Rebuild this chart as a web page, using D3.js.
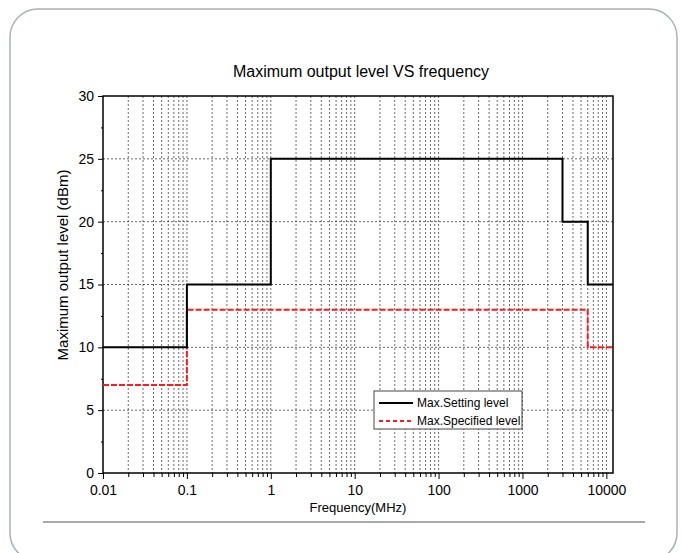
<!DOCTYPE html>
<html>
<head>
  <meta charset="utf-8">
  <title>Maximum output level VS frequency</title>
  <script src="https://cdn.jsdelivr.net/npm/d3@7"></script>
  <style>
    html, body { margin: 0; padding: 0; background: #fff; }
    svg { display: block; font-family: "Liberation Sans", Arial, sans-serif; }
    .grid line { stroke: #444; stroke-width: 0.8; stroke-dasharray: 2,2; }
    .axis path, .axis line { stroke: #000; }
    .axis text { font-size: 14px; fill: #000; }
  </style>
</head>
<body>
<div id="chart"></div>
<script>
  // step series (frequency in MHz where each level begins, last value ends the line)
  var settingFreq = [0.01, 0.1, 1, 3000, 6000, 12000];
  var settingLevel = [10, 15, 25, 20, 15, 15];
  var specFreq = [0.01, 0.1, 6000, 12000];
  var specLevel = [7, 13, 10, 10];
  var yTicks = [0, 5, 10, 15, 20, 25, 30];
  var xTicks = [0.01, 0.1, 1, 10, 100, 1000, 10000];
  var legendNames = ['Max.Setting level', 'Max.Specified level'];

  var W = 683, H = 553;
  var margin = { top: 96, left: 103, right: 70, bottom: 80 };
  var width = W - margin.left - margin.right;   // 510
  var height = H - margin.top - margin.bottom;  // 377

  var svg = d3.select('#chart').append('svg')
    .attr('width', W).attr('height', H);

  // page frame
  svg.append('rect')
    .attr('x', 10).attr('y', 9).attr('width', 667).attr('height', 552)
    .attr('rx', 28).attr('ry', 28)
    .attr('fill', 'none').attr('stroke', '#a9b2b7').attr('stroke-width', 1.5);
  svg.append('line')
    .attr('x1', 43).attr('x2', 645).attr('y1', 522).attr('y2', 522)
    .attr('stroke', '#555').attr('stroke-width', 1.2);

  var g = svg.append('g')
    .attr('transform', 'translate(' + margin.left + ',' + margin.top + ')');

  var x = d3.scaleLog().domain([0.01, 12000]).range([0, width]);
  var y = d3.scaleLinear().domain([0, 30]).range([height, 0]);

  // minor positions 1..9 in each decade
  var minorX = [];
  for (var e = -2; e <= 4; e++) {
    for (var m = 1; m <= 9; m++) {
      var v = m * Math.pow(10, e);
      if (v > 0.01 && v <= 12000) minorX.push(v);
    }
  }

  // grid
  var grid = g.append('g').attr('class', 'grid');
  grid.selectAll('.vx').data(minorX).enter().append('line')
    .attr('x1', function (d) { return x(d); })
    .attr('x2', function (d) { return x(d); })
    .attr('y1', 0).attr('y2', height);
  grid.selectAll('.hy').data(yTicks.slice(1, -1)).enter().append('line')
    .attr('x1', 0).attr('x2', width)
    .attr('y1', function (d) { return y(d); })
    .attr('y2', function (d) { return y(d); });

  // axes
  var xMinor = minorX.filter(function (d) { return Math.abs(Math.log10(d) - Math.round(Math.log10(d))) > 1e-9; });
  g.append('g').attr('class', 'axis')
    .attr('transform', 'translate(0,' + height + ')')
    .call(d3.axisBottom(x).tickValues(xMinor).tickSize(4).tickFormat(''))
    .select('.domain').remove();
  g.append('g').attr('class', 'axis')
    .attr('transform', 'translate(0,' + height + ')')
    .call(d3.axisBottom(x).tickValues(xTicks).tickSize(6).tickPadding(6)
      .tickFormat(function (d) { return String(+d.toPrecision(6)); }))
    .select('.domain').remove();

  var yMinor = d3.range(2.5, 30, 5);
  g.append('g').attr('class', 'axis')
    .call(d3.axisLeft(y).tickValues(yMinor).tickSize(2).tickFormat(''))
    .select('.domain').remove();
  g.append('g').attr('class', 'axis')
    .call(d3.axisLeft(y).tickValues(yTicks).tickSize(5).tickPadding(4))
    .select('.domain').remove();

  // frame of plot
  g.append('rect')
    .attr('x', 0).attr('y', 0).attr('width', width).attr('height', height)
    .attr('fill', 'none').attr('stroke', '#000').attr('stroke-width', 1.5);

  var stepLine = d3.line()
    .x(function (d) { return x(d[0]); })
    .y(function (d) { return y(d[1]); })
    .curve(d3.curveStepAfter);

  g.append('path')
    .datum(d3.zip(specFreq, specLevel))
    .attr('d', stepLine)
    .attr('fill', 'none').attr('stroke', '#ff1a1a').attr('stroke-width', 2)
    .attr('stroke-dasharray', '6,2');

  g.append('path')
    .datum(d3.zip(settingFreq, settingLevel))
    .attr('d', stepLine)
    .attr('fill', 'none').attr('stroke', '#000').attr('stroke-width', 2);

  // legend
  var lg = svg.append('g').attr('transform', 'translate(374,391)');
  lg.append('rect').attr('width', 148).attr('height', 38)
    .attr('fill', '#fff').attr('stroke', '#444').attr('stroke-width', 1);
  var styles = [{ c: '#000', d: null }, { c: '#ff1a1a', d: '4,3' }];
  legendNames.forEach(function (name, i) {
    var yy = 12 + i * 18;
    lg.append('line').attr('x1', 5).attr('x2', 39).attr('y1', yy).attr('y2', yy)
      .attr('stroke', styles[i].c).attr('stroke-width', 2)
      .attr('stroke-dasharray', styles[i].d);
    lg.append('text').attr('x', 43).attr('y', yy + 4)
      .attr('font-size', 12).text(name);
  });

  // titles
  svg.append('text')
    .attr('x', margin.left + width / 2 + 3).attr('y', 77)
    .attr('text-anchor', 'middle').attr('font-size', 16)
    .text('Maximum output level VS frequency');
  svg.append('text')
    .attr('x', margin.left + width / 2).attr('y', 512)
    .attr('text-anchor', 'middle').attr('font-size', 13)
    .text('Frequency(MHz)');
  svg.append('text')
    .attr('transform', 'translate(68,265) rotate(-90)')
    .attr('text-anchor', 'middle').attr('font-size', 15)
    .text('Maximum output level (dBm)');
</script>
</body>
</html>
